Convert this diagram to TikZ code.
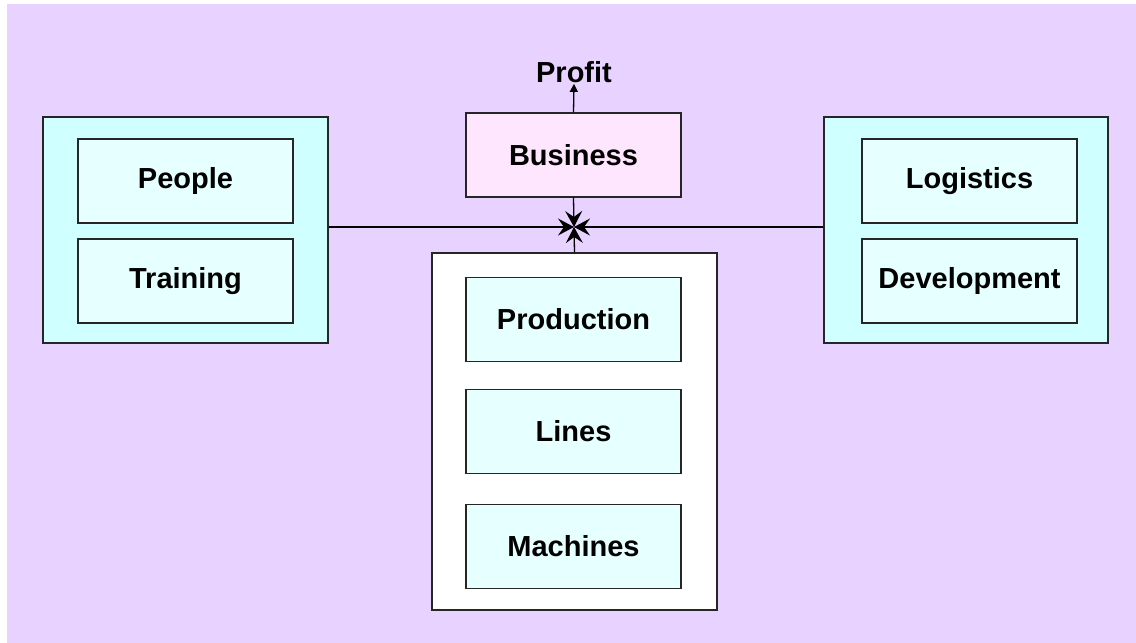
\documentclass[tikz,border=0pt]{standalone}
\usepackage{fontspec}
\setmainfont{Liberation Sans}
\usetikzlibrary{arrows.meta,shapes}
\definecolor{lavender}{RGB}{232,210,255}
\definecolor{panelcyan}{RGB}{208,255,255}
\definecolor{cellcyan}{RGB}{230,255,255}
\definecolor{bizpink}{RGB}{255,230,255}
\tikzstyle{panel}=[draw=black!85,line width=1.4pt,inner sep=0pt]
\tikzstyle{inbox}=[draw=black!85,line width=1.2pt,fill=cellcyan,minimum width=215pt,minimum height=84pt,inner sep=0pt,font=\bfseries\fontsize{29}{32}\selectfont]
\tikzstyle{link}=[draw,line width=1.3pt,-{Stealth[length=16pt,width=17pt,inset=6pt]}]

\begin{document}
\begin{tikzpicture}[x=1pt,y=-1pt]
      \useasboundingbox (0,0) rectangle (1136,643);
      \fill[lavender] (7,4) rectangle (1136,643);
      \coordinate (hub) at (574,227);
      % side panels
      \node[panel,fill=panelcyan,minimum width=285pt,minimum height=226pt] (left) at (185.5,230) {};
      \node[panel,fill=panelcyan,minimum width=284pt,minimum height=226pt] (right) at (966,230) {};
      \node[panel,fill=white,minimum width=285pt,minimum height=357pt] (core) at (574.5,431.5) {};
      \node[inbox] (people) at (185.5,181) {People};
      \node[inbox] (training) at (185.5,281) {Training};
      \node[inbox] (logistics) at (969.5,181) {Logistics};
      \node[inbox] (development) at (969.5,281) {Development};
      \node[inbox] (production) at (573.5,319.5) {Production};
      \node[inbox] (lines) at (573.5,431.5) {Lines};
      \node[inbox] (machines) at (573.5,546.5) {Machines};
      \node[inbox,fill=bizpink] (business) at (573.5,155) {Business};
      \node[inner sep=1pt,font=\bfseries\fontsize{29}{32}\selectfont] (profit) at (574,72) {Profit};
      % links
      \draw[link] (hub -| left.east) to (hub);
      \draw[link] (hub -| right.west) to (hub);
      \draw[link] (business.south) to (hub);
      \draw[link] (core.north) to (hub);
      \draw[line width=1.3pt,-{Triangle[length=8pt,width=8pt]}] (business.north) to (profit.south);
\end{tikzpicture}
\end{document}
